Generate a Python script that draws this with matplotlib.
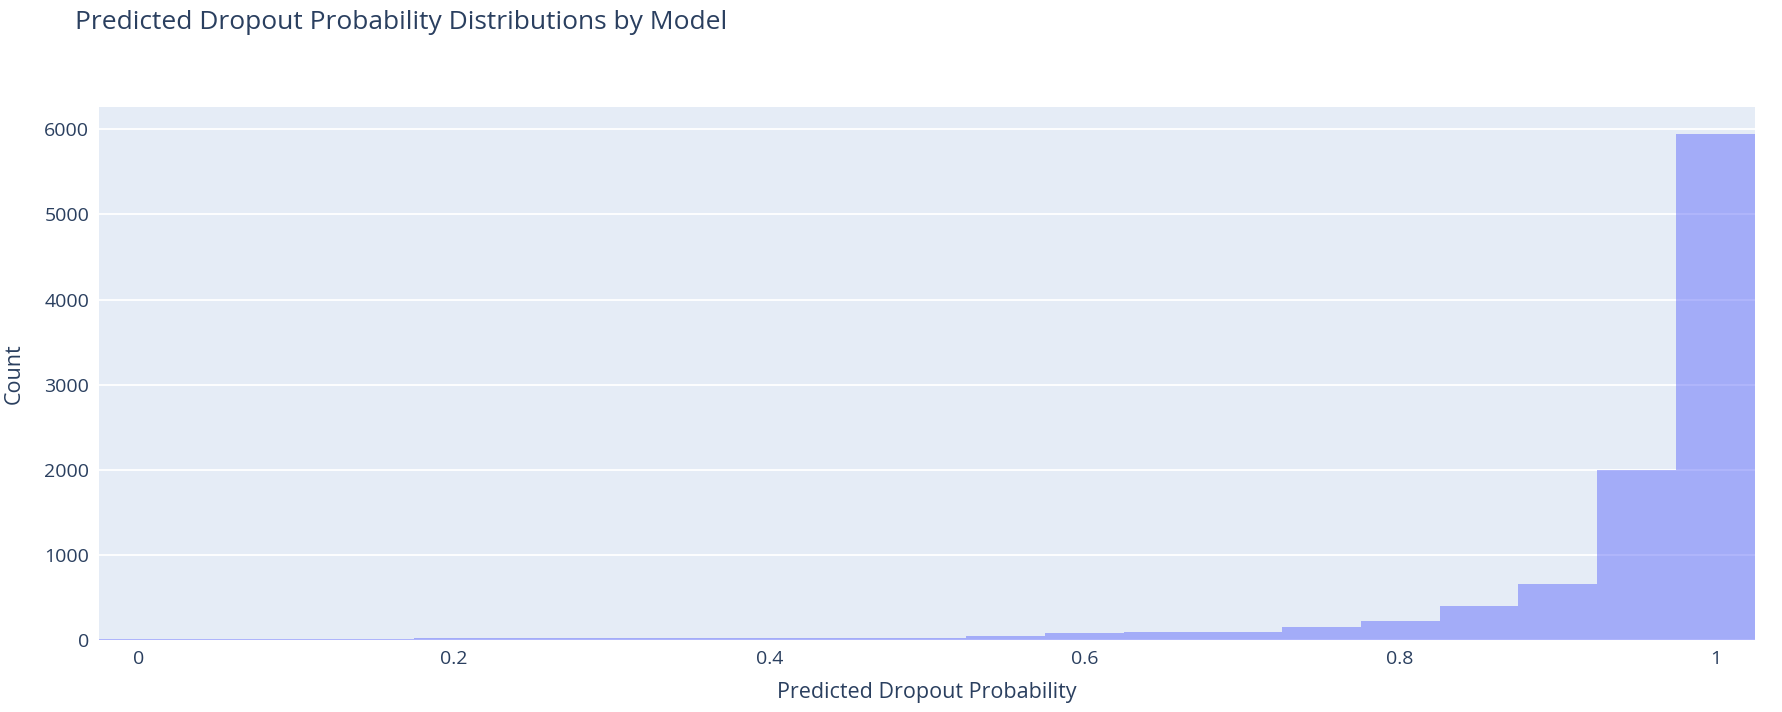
import numpy as np
import matplotlib
matplotlib.use("Agg")
import matplotlib.pyplot as plt
from matplotlib.ticker import FuncFormatter

# histogram bins (centres) and counts
bin_centers = [0.0, 0.05, 0.10, 0.15, 0.20, 0.25, 0.30, 0.35, 0.40, 0.45, 0.50,
               0.55, 0.60, 0.65, 0.70, 0.75, 0.80, 0.85, 0.90, 0.95, 1.00]
counts = [9, 8, 8, 9, 20, 21, 21, 22, 22, 23, 24,
          45, 82, 94, 96, 155, 225, 405, 662, 1992, 5950]
bin_width = 0.05

x_ticks = [0, 0.2, 0.4, 0.6, 0.8, 1.0]
y_ticks = [0, 1000, 2000, 3000, 4000, 5000, 6000]

TEXT = '#2a3f5f'
plt.rcParams['font.family'] = ['Open Sans', 'DejaVu Sans']

fig = plt.figure(figsize=(17.83, 7.12), dpi=100)
ax = fig.add_axes([0.0555, 0.1011, 0.9288, 0.7486])
ax.set_facecolor('#E5ECF6')

ax.bar(bin_centers, counts, width=bin_width, color='#636EFA', alpha=0.5,
       linewidth=0, zorder=3)

ax.set_xlim(-0.025, 1.025)
ax.set_ylim(0, 6263)
ax.set_xticks(x_ticks)
ax.set_yticks(y_ticks)
ax.xaxis.set_major_formatter(FuncFormatter(lambda v, p: '%g' % v))
ax.grid(axis='y', color='white', linewidth=1.3, zorder=1)
ax.set_axisbelow(True)
ax.tick_params(length=0, labelsize=14, labelcolor=TEXT, pad=7)
for s in ax.spines.values():
    s.set_visible(False)

ax.set_xlabel('Predicted Dropout Probability', fontsize=15.5, color=TEXT, labelpad=10)
ax.set_ylabel('Count', fontsize=15.5, color=TEXT, labelpad=14)
fig.text(0.042, 0.968, 'Predicted Dropout Probability Distributions by Model',
         fontsize=19, color=TEXT, va='center', ha='left')

fig.savefig('out.png', dpi=100)
